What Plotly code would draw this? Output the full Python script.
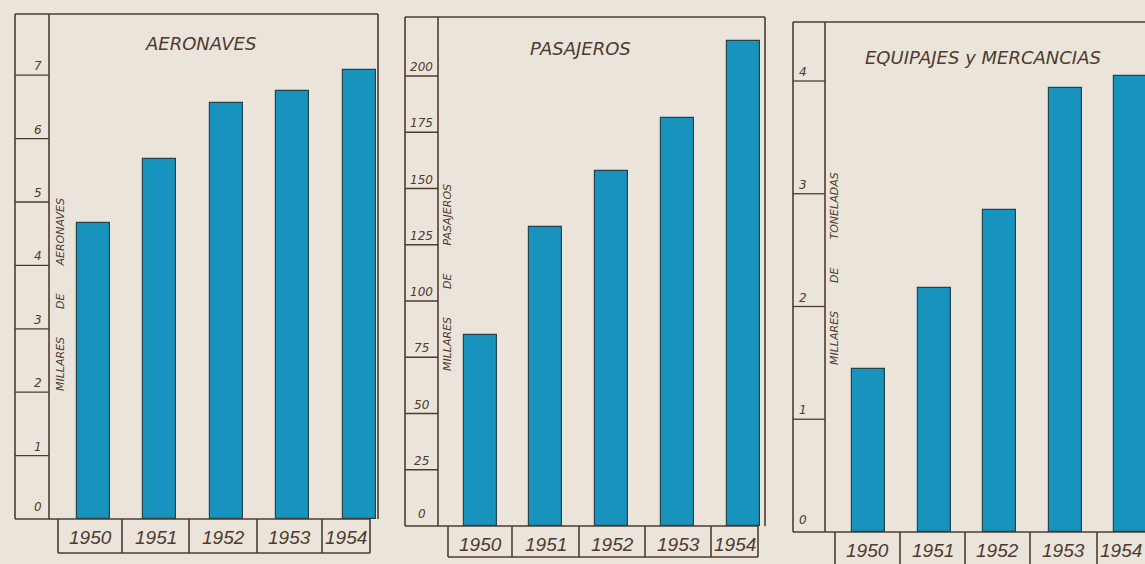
import plotly.graph_objects as go

# ---------------- data ----------------
years = ["1950", "1951", "1952", "1953", "1954"]
aeronaves = [4.67, 5.68, 6.56, 6.75, 7.08]          # millares de aeronaves
pasajeros = [84.9, 132.9, 157.8, 181.3, 215.6]      # millares de pasajeros
mercancias = [1.45, 2.16, 2.86, 3.94, 4.04]         # millares de toneladas

ticks_aeronaves = [0, 1, 2, 3, 4, 5, 6, 7]
ticks_pasajeros = [0, 25, 50, 75, 100, 125, 150, 175, 200]
ticks_mercancias = [0, 1, 2, 3, 4]

titles = ["AERONAVES", "PASAJEROS", "EQUIPAJES y MERCANCIAS"]
ytitles = ["MILLARES DE AERONAVES", "MILLARES DE PASAJEROS", "MILLARES DE TONELADAS"]

# ---------------- styling / geometry ----------------
W, H = 1145, 564
BG = "#ebe4da"
BAR = "#1893bd"
BAR_EDGE = "#24444c"
INK = "#4e3b30"
FONT = "DejaVu Sans"


def px(x):
    return x / W


def py(y):
    return 1 - y / H


geoms = [
    dict(strip_left=15, plot_left=49, plot_right=378, top=14, base=519,
         box_left=58, box_right=370, box_bottom=553, dividers=[122, 189, 257, 322],
         c0=93.5, step=66.4, ppu=63.4, title_xy=(200, 43), ytitle_xy=(60, 295),
         right_border=True, label_y=537),
    dict(strip_left=405, plot_left=438, plot_right=765, top=17, base=526,
         box_left=448, box_right=758, box_bottom=557, dividers=[512, 579, 645, 711],
         c0=480, step=65.75, ppu=2.25, title_xy=(580, 48), ytitle_xy=(447, 278),
         right_border=True, label_y=544),
    dict(strip_left=793, plot_left=825, plot_right=1160, top=22, base=532,
         box_left=835, box_right=1170, box_bottom=570, dividers=[900, 965, 1030, 1097],
         c0=868.5, step=65.6, ppu=112.75, title_xy=(983, 57), ytitle_xy=(834, 269),
         right_border=False, label_y=550),
]

series = [aeronaves, pasajeros, mercancias]
tickset = [ticks_aeronaves, ticks_pasajeros, ticks_mercancias]

fig = go.Figure()
shapes = []
annotations = []
line = dict(color=INK, width=1.6)

for i, (g, vals, ticks) in enumerate(zip(geoms, series, tickset)):
    n = "" if i == 0 else str(i + 1)
    xa, ya = "x" + n, "y" + n
    xr = [(g["plot_left"] - g["c0"]) / g["step"], (g["plot_right"] - g["c0"]) / g["step"]]
    yr = [0, (g["base"] - g["top"]) / g["ppu"]]
    right = min(g["plot_right"], W)
    if g["plot_right"] > W:
        xr[1] = (W - g["c0"]) / g["step"]

    fig.add_trace(go.Bar(
        x=list(range(len(years))), y=vals, xaxis=xa, yaxis=ya,
        width=33 / g["step"], marker=dict(color=BAR, line=dict(color=BAR_EDGE, width=1.2)),
        hovertext=years, showlegend=False, cliponaxis=True,
    ))
    fig.layout["xaxis" + n] = dict(
        domain=[px(g["plot_left"]), px(right)], range=xr, anchor=ya,
        showticklabels=False, showgrid=False, zeroline=False, showline=False, fixedrange=True)
    fig.layout["yaxis" + n] = dict(
        domain=[py(g["base"]), py(g["top"])], range=yr, anchor=xa,
        showticklabels=False, showgrid=False, zeroline=False, showline=False, fixedrange=True)

    # frame: strip + plot box
    shapes.append(dict(type="line", xref="paper", yref="paper",
                       x0=px(g["strip_left"]), x1=px(g["strip_left"]),
                       y0=py(g["base"]), y1=py(g["top"]), line=line))
    shapes.append(dict(type="line", xref="paper", yref="paper",
                       x0=px(g["plot_left"]), x1=px(g["plot_left"]),
                       y0=py(g["base"]), y1=py(g["top"]), line=line))
    shapes.append(dict(type="line", xref="paper", yref="paper",
                       x0=px(g["strip_left"]), x1=px(right),
                       y0=py(g["top"]), y1=py(g["top"]), line=line))
    if g["right_border"]:
        shapes.append(dict(type="line", xref="paper", yref="paper",
                           x0=px(right), x1=px(right),
                           y0=py(g["base"]), y1=py(g["top"]), line=line))
    # baseline
    shapes.append(dict(type="line", xref="paper", yref="paper",
                       x0=px(g["strip_left"]), x1=px(min(g["box_right"], W)),
                       y0=py(g["base"]), y1=py(g["base"]), line=line))

    # tick strip lines and labels (through the y scale)
    for t in ticks:
        if t != 0:
            shapes.append(dict(type="line", xref="paper", yref=ya,
                               x0=px(g["strip_left"]), x1=px(g["plot_left"]),
                               y0=t, y1=t, line=dict(color=INK, width=1.3)))
        annotations.append(dict(
            xref="paper", yref=ya, x=px((g["strip_left"] + g["plot_left"]) / 2), y=t,
            text=str(t), showarrow=False, yanchor="bottom", yshift=0 if t else 3,
            font=dict(family=FONT, size=12, color=INK, style="italic")))

    # year box
    bl, br = g["box_left"], min(g["box_right"], W)
    shapes.append(dict(type="line", xref="paper", yref="paper",
                       x0=px(bl), x1=px(bl), y0=py(g["base"]), y1=py(g["box_bottom"]), line=line))
    if g["box_right"] <= W:
        shapes.append(dict(type="line", xref="paper", yref="paper",
                           x0=px(br), x1=px(br), y0=py(g["base"]), y1=py(g["box_bottom"]), line=line))
    if g["box_bottom"] <= H:
        shapes.append(dict(type="line", xref="paper", yref="paper",
                           x0=px(bl), x1=px(br), y0=py(g["box_bottom"]), y1=py(g["box_bottom"]),
                           line=line))
    for d in g["dividers"]:
        shapes.append(dict(type="line", xref="paper", yref="paper",
                           x0=px(d), x1=px(d), y0=py(g["base"]), y1=py(min(g["box_bottom"], H)),
                           line=line))
    edges = [g["box_left"]] + g["dividers"] + [min(g["box_right"], W)]
    for k, yr_lbl in enumerate(years):
        cx = (edges[k] + edges[k + 1]) / 2
        annotations.append(dict(
            xref=xa, yref="paper", x=(cx - g["c0"]) / g["step"], y=py(g["label_y"]),
            text=yr_lbl, showarrow=False, xanchor="center", yanchor="middle",
            font=dict(family="Liberation Sans", size=19, color=INK, style="italic")))

    # titles
    tx, ty = g["title_xy"]
    annotations.append(dict(
        xref="paper", yref="paper", x=px(tx), y=py(ty), text=titles[i], showarrow=False,
        xanchor="center", yanchor="middle",
        font=dict(family=FONT, size=18, color=INK, style="italic")))
    ax, ay = g["ytitle_xy"]
    annotations.append(dict(
        xref="paper", yref="paper", x=px(ax), y=py(ay),
        text=ytitles[i].replace(" ", "&nbsp;" * 8),
        showarrow=False, textangle=-90, xanchor="center", yanchor="middle",
        font=dict(family=FONT, size=11, color=INK, style="italic")))

fig.update_layout(
    width=W, height=H, margin=dict(l=0, r=0, t=0, b=0),
    paper_bgcolor=BG, plot_bgcolor="rgba(0,0,0,0)",
    shapes=shapes, annotations=annotations, bargap=0,
)

fig.write_html(
    "out.html",
    config={"displayModeBar": False},
    post_script=("document.body.style.margin='0';document.body.style.overflow='hidden';"
                 "document.body.style.background='%s';" % BG),
)
